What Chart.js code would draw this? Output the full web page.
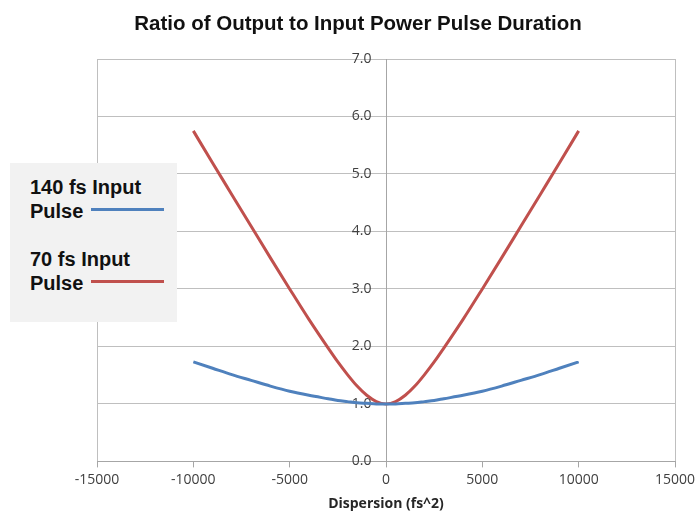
<!DOCTYPE html>
<html>
<head>
<meta charset="utf-8">
<script src="https://cdn.jsdelivr.net/npm/chart.js@4"></script>
<style>
  html, body { margin: 0; padding: 0; background: #fff; }
  #wrap { position: relative; width: 695px; height: 512px; overflow: hidden; }
  #title {
    position: absolute; left: 21px; width: 674px; top: 11px; text-align: center;
    font-family: "Liberation Sans", Arial, sans-serif; font-weight: bold;
    font-size: 20.5px; line-height: 24px; color: #111; white-space: nowrap;
  }
  #legend {
    position: absolute; left: 10px; top: 163px; width: 167px; height: 159px;
    background: #f2f2f2; font-family: "Liberation Sans", Arial, sans-serif;
    font-weight: bold; font-size: 20px; color: #111; line-height: 24px;
  }
  .item { position: absolute; left: 20px; white-space: nowrap; }
  .swatch { display: inline-block; width: 73px; height: 3px; vertical-align: middle;
    margin-left: 8px; position: relative; top: -3px; }
</style>
</head>
<body>
<div id="wrap">
  <canvas id="myChart" width="695" height="512"></canvas>
  <div id="title">Ratio of Output to Input Power Pulse Duration</div>
  <div id="legend">
    <div class="item" style="top:12px">140 fs Input<br>Pulse<span class="swatch" style="background:#4f81bd"></span></div>
    <div class="item" style="top:84px">70 fs Input<br>Pulse<span class="swatch" style="background:#c0504d"></span></div>
  </div>
</div>
<script>
var dispersion = [-10000, -9000, -8000, -7000, -6000, -5000, -4000, -3000, -2500, -2000, -1500, -1000, -500,
  0, 500, 1000, 1500, 2000, 2500, 3000, 4000, 5000, 6000, 7000, 8000, 9000, 10000];
var pulse140 = [1.73, 1.62, 1.51, 1.41, 1.31, 1.22, 1.15, 1.09, 1.06, 1.04, 1.02, 1.01, 1.00,
  1.00, 1.00, 1.01, 1.02, 1.04, 1.06, 1.09, 1.15, 1.22, 1.31, 1.41, 1.51, 1.62, 1.73];
var pulse70 = [5.75, 5.19, 4.64, 4.09, 3.54, 3.00, 2.47, 1.97, 1.73, 1.51, 1.31, 1.15, 1.04,
  1.00, 1.04, 1.15, 1.31, 1.51, 1.73, 1.97, 2.47, 3.00, 3.54, 4.09, 4.64, 5.19, 5.75];

function pts(ys) {
  return dispersion.map(function (x, i) { return { x: x, y: ys[i] }; });
}

var ctx = document.getElementById('myChart').getContext('2d');
var myChart = new Chart(ctx, {
  type: 'scatter',
  data: {
    datasets: [{
      label: '140 fs Input Pulse',
      data: pts(pulse140),
      showLine: true,
      borderColor: '#4f81bd',
      borderWidth: 3,
      pointRadius: 0,
      cubicInterpolationMode: 'monotone'
    },
    {
      label: '70 fs Input Pulse',
      data: pts(pulse70),
      showLine: true,
      borderColor: '#c0504d',
      borderWidth: 3,
      pointRadius: 0,
      cubicInterpolationMode: 'monotone'
    }]
  },
  options: {
    responsive: false,
    animation: false,
    layout: { autoPadding: false, padding: { left: 97, right: 20, top: 59, bottom: 0 } },
    scales: {
      x: {
        type: 'linear',
        min: -15000,
        max: 15000,
        // let the end labels hang over the edge instead of shrinking the plot
        afterFit: function (scale) { scale.paddingLeft = 0; scale.paddingRight = 0; },
        grid: {
          color: function (c) {
            var v = c.tick ? c.tick.value : null;
            return (v === -15000 || v === 15000) ? '#bfbfbf' : 'rgba(0,0,0,0)';
          },
          tickColor: '#a6a6a6',
          tickLength: 6
        },
        border: { color: '#a6a6a6' },
        ticks: {
          stepSize: 5000,
          color: '#404040',
          padding: 4,
          maxRotation: 0,
          font: { family: 'Open Sans', size: 14 },
          callback: function (v) { return String(v); }
        },
        title: {
          display: true,
          text: 'Dispersion (fs^2)',
          color: '#262626',
          padding: { top: 3, bottom: 0 },
          font: { family: 'Open Sans', size: 14, weight: 'bold' }
        }
      },
      y: {
        type: 'linear',
        position: { x: 0 },
        min: 0,
        max: 7,
        grid: { color: '#bfbfbf', drawTicks: false },
        border: { color: '#a6a6a6' },
        ticks: {
          stepSize: 1,
          color: '#404040',
          font: { family: 'Open Sans', size: 14 },
          // positioned axis ignores padding, so pad the label text itself
          callback: function (v) { return v.toFixed(1) + '    '; }
        }
      }
    },
    plugins: {
      legend: { display: false },
      tooltip: { enabled: false },
      title: { display: false }
    }
  }
});
</script>
</body>
</html>
